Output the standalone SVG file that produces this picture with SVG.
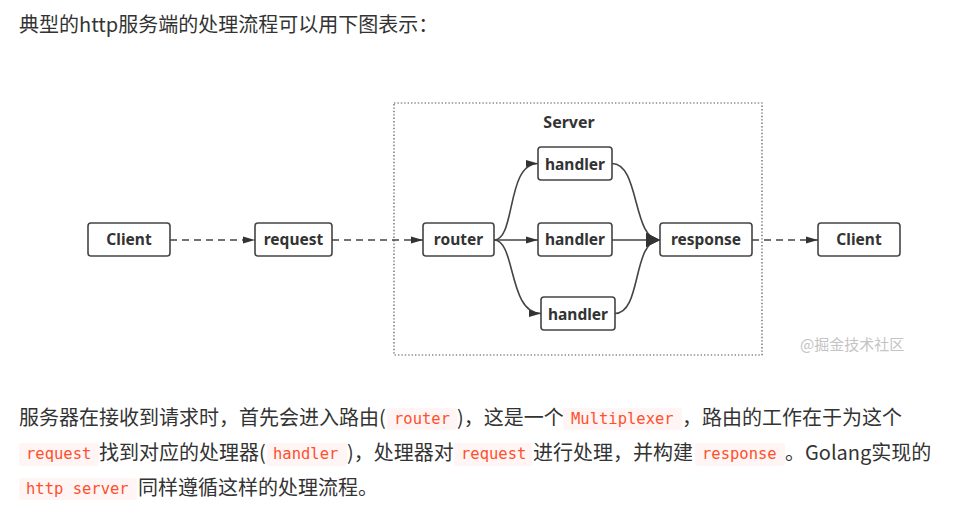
<svg xmlns="http://www.w3.org/2000/svg" width="973" height="508" viewBox="0 0 973 508">
<style>
  .bg{fill:#ffffff}
  .p{font-family:"Noto Sans CJK SC","Noto Sans",sans-serif;font-size:20px;fill:#333}
  .code{font-family:"DejaVu Sans Mono","Liberation Mono",monospace;font-size:15.5px;fill:#ff502c}
  .cbox{fill:#fff5f5}
  .node rect{fill:#fff;stroke:#444;stroke-width:1.6}
  .node text{font-family:"Noto Sans","Open Sans",sans-serif;font-weight:700;font-size:15.5px;fill:#333;text-anchor:middle}
  .title{font-family:"Noto Sans","Open Sans",sans-serif;font-weight:700;font-size:16px;fill:#333;text-anchor:middle}
  .server{fill:none;stroke:#555;stroke-width:1.2;stroke-dasharray:1.4 2}
  .dash{fill:none;stroke:#444;stroke-width:1.6;stroke-dasharray:7 5}
  .solid{fill:none;stroke:#444;stroke-width:1.6}
  .wm{font-family:"Noto Sans CJK SC","Noto Sans",sans-serif;font-size:15px;fill:#c4c4c4}
</style>
<defs>
  <marker id="arr" markerUnits="userSpaceOnUse" markerWidth="12" markerHeight="8" refX="12" refY="4" orient="auto">
    <path d="M0,0.5 L12,4 L0,7.5 z" fill="#333"/>
  </marker>
  <marker id="arrBig" markerUnits="userSpaceOnUse" markerWidth="14" markerHeight="16" refX="14" refY="8" orient="auto">
    <path d="M0,1 L14,8 L0,15 z" fill="#333"/>
  </marker>
</defs>
<rect class="bg" x="0" y="0" width="973" height="508"/>

<text class="p" x="19" y="32">典型的http服务端的处理流程可以用下图表示：</text>

<rect id="server-box" class="server" x="394" y="103" width="368" height="252"/>
<text class="title" x="569" y="128">Server</text>

<g id="connectors">
  <path class="dash" d="M170,240 L255,240" marker-end="url(#arr)"/>
  <path class="dash" d="M332,240 L423,240" marker-end="url(#arr)"/>
  <path class="dash" d="M752,240 L818,240" marker-end="url(#arr)"/>
  <path class="solid" d="M494,240 C516,240 506,163.5 538,163.5" marker-end="url(#arr)"/>
  <path class="solid" d="M494,240 L538,240" marker-end="url(#arr)"/>
  <path class="solid" d="M494,240 C516,240 508,313.5 541,313.5" marker-end="url(#arr)"/>
  <path class="solid" d="M612,163.5 C640,163.5 632,240 660,240" marker-end="url(#arrBig)"/>
  <path class="solid" d="M612,240 L660,240" marker-end="url(#arrBig)"/>
  <path class="solid" d="M615,313.5 C642,313.5 632,240 660,240" marker-end="url(#arrBig)"/>
</g>

<g id="client-left" class="node"><rect x="88" y="223" width="82" height="33" rx="3"/><text x="129" y="245">Client</text></g>
<g id="request" class="node"><rect x="255" y="223" width="77" height="33" rx="3"/><text x="293.5" y="245">request</text></g>
<g id="router" class="node"><rect x="423" y="223" width="71" height="33" rx="3"/><text x="458.5" y="245">router</text></g>
<g id="handler-top" class="node"><rect x="538" y="147" width="74" height="33" rx="3"/><text x="575" y="170">handler</text></g>
<g id="handler-mid" class="node"><rect x="538" y="223" width="74" height="33" rx="3"/><text x="575" y="245">handler</text></g>
<g id="handler-bot" class="node"><rect x="541" y="297" width="74" height="33" rx="3"/><text x="578" y="320">handler</text></g>
<g id="response" class="node"><rect x="660" y="223" width="92" height="33" rx="3"/><text x="706" y="245">response</text></g>
<g id="client-right" class="node"><rect x="818" y="223" width="82" height="33" rx="3"/><text x="859" y="245">Client</text></g>

<text class="wm" x="800" y="350">@掘金技术社区</text>

<!-- paragraph line 1 -->
<text class="p" x="19" y="425">服务器在接收到请求时，首先会进入路由(</text>
<rect class="cbox" x="387" y="408" width="70" height="22" rx="2"/>
<text class="code" x="394" y="424">router</text>
<text class="p" x="457" y="425">)，这是一个</text>
<rect class="cbox" x="563" y="408" width="119" height="22" rx="2"/>
<text class="code" x="571" y="424">Multiplexer</text>
<text class="p" x="682" y="425">，路由的工作在于为这个</text>

<!-- line 2 -->
<rect class="cbox" x="19" y="443" width="80" height="23" rx="2"/>
<text class="code" x="26" y="459">request</text>
<text class="p" x="99" y="460">找到对应的处理器(</text>
<rect class="cbox" x="267" y="443" width="80" height="23" rx="2"/>
<text class="code" x="273" y="459">handler</text>
<text class="p" x="347" y="460">)，处理器对</text>
<rect class="cbox" x="454" y="443" width="78" height="23" rx="2"/>
<text class="code" x="461" y="459">request</text>
<text class="p" x="533" y="460">进行处理，并构建</text>
<rect class="cbox" x="695" y="443" width="90" height="23" rx="2"/>
<text class="code" x="702" y="459">response</text>
<text class="p" x="785" y="460">。Golang实现的</text>

<!-- line 3 -->
<rect class="cbox" x="19" y="478" width="118" height="22" rx="2"/>
<text class="code" x="26" y="494">http server</text>
<text class="p" x="138" y="495">同样遵循这样的处理流程。</text>
</svg>
